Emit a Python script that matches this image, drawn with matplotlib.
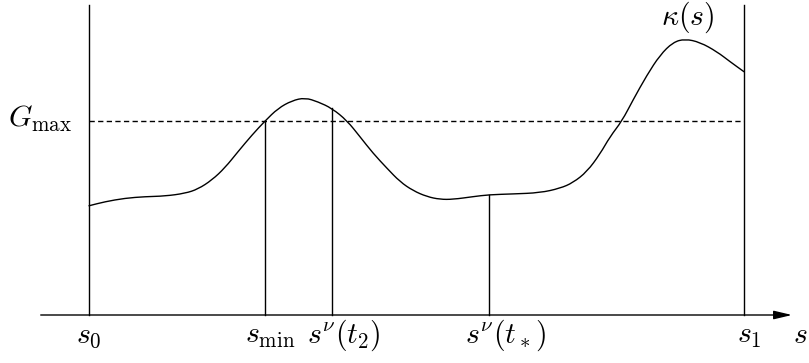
"""kappa(s) 曲线示意图: G_max 阈值和几个标记点"""
import numpy as np
import matplotlib
matplotlib.use('Agg')
import matplotlib.pyplot as plt
from matplotlib.path import Path
from matplotlib.patches import PathPatch

plt.rcParams['mathtext.fontset'] = 'cm'

# curve (s in [s0, s1] = [0, 10])
S_PTS = [0.0, 0.244, 0.550, 0.855, 1.160, 1.466, 1.664, 1.878, 2.076, 2.275,
         2.489, 2.687, 2.885, 3.099, 3.298, 3.496, 3.710, 3.939, 4.137, 4.336,
         4.550, 4.748, 4.947, 5.160, 5.359, 5.557, 5.863, 6.107, 6.473, 6.885,
         7.191, 7.389, 7.603, 7.802, 7.954, 8.137, 8.305, 8.519, 8.718, 8.916,
         9.099, 9.328, 9.588, 9.786, 10.0]
KAPPA = [5.63, 5.84, 6.02, 6.10, 6.13, 6.27, 6.49, 6.96, 7.59, 8.42,
         9.28, 10.00, 10.65, 11.05, 11.20, 10.99, 10.65, 10.02, 9.19, 8.34,
         7.56, 6.87, 6.41, 6.10, 5.96, 5.96, 6.10, 6.20, 6.24, 6.30,
         6.53, 6.82, 7.39, 8.30, 9.19, 10.00, 11.08, 12.37, 13.40, 14.06,
         14.23, 14.06, 13.57, 13.06, 12.54]

S0, S1 = 0.0, 10.0
G_MAX = 10.0
TOP = 16.0
MARKS = [2.687, 3.710, 6.107]          # s_min, s^nu(t2), s^nu(t*)
MARK_LABELS = [r'$s_{\min}$', r'$s^{\nu}(t_2)$', r'$s^{\nu}(t_*)$']
LABEL_X = [2.763, 3.893, 6.351]

fig = plt.figure(figsize=(8.09, 3.63), dpi=100)
ax = fig.add_axes([0, 0, 1, 1])
ax.set_axis_off()
ax.set_xlim(-89/65.5, 720/65.5)
ax.set_ylim(-48/19.4, 315/19.4)

lw = 1.0

# smooth curve: read points used as quadratic bezier control points
pts = np.column_stack([S_PTS, KAPPA])
mids = (pts[:-1] + pts[1:]) / 2
verts = [pts[0], mids[0]]
codes = [Path.MOVETO, Path.LINETO]
for i in range(1, len(pts) - 1):
    verts += [pts[i], mids[i]]
    codes += [Path.CURVE3, Path.CURVE3]
verts.append(pts[-1]); codes.append(Path.LINETO)
ax.add_patch(PathPatch(Path(verts, codes), fill=False, lw=lw, color='k',
                       capstyle='round', joinstyle='round'))

ax.plot([S0, S0], [0, TOP], color='k', lw=lw)
ax.plot([S1, S1], [0, TOP], color='k', lw=lw)
ax.plot([S0, S1], [G_MAX, G_MAX], color='k', lw=lw, dashes=(3.8, 2.4))

# marker lines go up to the curve (s_min stops at G_max)
for i, sm in enumerate(MARKS):
    top = G_MAX if i == 0 else np.interp(sm, S_PTS, KAPPA)
    ax.plot([sm, sm], [0, top], color='k', lw=lw)

# s axis with arrow
ax.annotate('', xy=(10.733, 0), xytext=(-0.737, 0),
            arrowprops=dict(arrowstyle='-|>,head_length=0.55,head_width=0.13',
                            lw=lw, color='k', mutation_scale=20,
                            shrinkA=0, shrinkB=0))

fs = 21.5
by = -1.44
ax.text(-0.01, by, r'$s_0$', fontsize=fs, ha='center', va='baseline')
for sx, lab in zip(LABEL_X, MARK_LABELS):
    ax.text(sx, by, lab, fontsize=fs, ha='center', va='baseline')
ax.text(10.076, by, r'$s_1$', fontsize=fs, ha='center', va='baseline')
ax.text(10.97, by, r'$s$', fontsize=fs, ha='right', va='baseline')
ax.text(-0.748, 9.69, r'$G_{\max}$', fontsize=fs, ha='center', va='baseline')
ax.text(9.145, 14.98, r'$\kappa(s)$', fontsize=fs, ha='center', va='baseline')

fig.savefig('out.png', dpi=100)
